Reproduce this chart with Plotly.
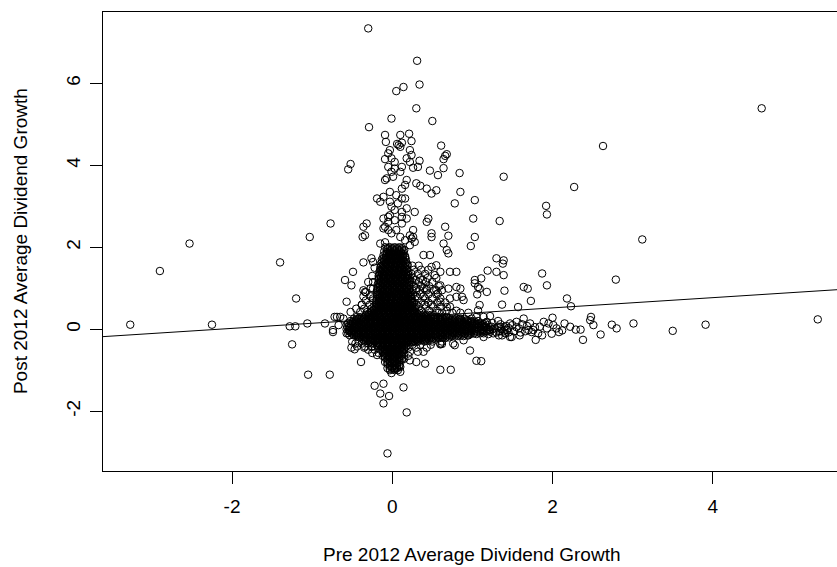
import plotly.graph_objects as go

# ---- data (pre-2012 growth, post-2012 growth) ----
upper_points = [
    (-0.30,7.34),(0.31,6.55),(0.34,5.97),(0.05,5.81),(0.14,5.91),(0.30,5.39),(0.50,5.08),(-0.01,5.14),(-0.29,4.93),
    (-0.09,4.74),(0.10,4.74),(0.21,4.77),(-0.08,4.57),(0.24,4.59),(0.08,4.49),(0.10,4.45),(0.06,4.52),(0.12,4.55),
    (-0.03,4.37),(-0.05,4.29),(0.22,4.37),(0.24,4.25),(0.61,4.48),
    (-0.09,4.15),(-0.01,4.17),(0.03,4.08),(0.18,4.17),(0.22,4.08),(0.34,4.11),(0.66,4.23),(0.64,4.15),(0.68,4.27),
    (-0.05,3.96),(0.03,3.92),(0.12,3.96),(0.26,3.94),(-0.01,3.84),(0.10,3.84),(0.32,3.96),
    (-0.52,4.03),(-0.55,3.90),(0.47,3.87),(0.64,3.93),(0.84,3.81),(0.57,3.76),
    (0.01,3.72),(-0.07,3.68),(-0.09,3.64),(0.18,3.64),(0.16,3.52),(0.12,3.43),
    (0.30,3.56),(0.35,3.50),(0.43,3.43),(0.49,3.31),(0.55,3.39),(0.85,3.35),(0.78,3.07),(1.03,3.15),
    (-0.03,3.35),(0.05,3.27),(0.12,3.19),(0.16,3.19),(0.07,3.07),(-0.19,3.19),(-0.11,3.23),(-0.15,3.11),
    (-0.03,3.11),(-0.01,2.99),(0.03,2.91),(0.12,2.86),(0.18,2.95),(0.28,2.86),
    (-0.05,2.74),(-0.05,2.62),(0.03,2.66),(0.12,2.74),(0.12,2.58),(0.18,2.70),(-0.11,2.70),(-0.09,2.50),(-0.03,2.78),
    (0.45,2.70),(0.43,2.62),(0.66,2.50),(0.70,2.28),(0.49,2.34),(0.49,2.25),(1.01,2.70),(1.03,2.25),(0.98,2.03),(1.34,2.64),
    (-0.11,2.46),(-0.05,2.42),(-0.01,2.34),(0.05,2.42),(0.10,2.25),(0.16,2.17),(0.24,2.21),(0.22,2.05),(0.28,2.13),
    (0.26,2.42),(0.22,2.29),(0.26,2.25),
    (0.64,2.09),(0.68,1.93),(0.70,1.85),(0.39,1.81),(0.47,1.81),(0.55,1.56),(0.49,1.52),(0.60,1.40),(0.53,1.32),
    (0.72,1.40),(0.80,1.40),(1.03,1.20),(1.07,1.03),(0.80,1.03),(0.70,0.99),
]

right_upper_points = [
    (1.39,3.72),(2.27,3.47),(1.92,3.01),(1.93,2.80),(3.12,2.19),(2.79,1.21),(2.63,4.47),(4.61,5.39),
    (1.30,1.73),(1.39,1.68),(1.38,1.60),(1.30,1.40),(1.39,1.32),(1.19,1.43),(1.87,1.36),(1.93,1.07),
    (1.64,1.03),(1.69,0.99),(1.40,0.94),(1.11,1.24),(1.03,1.12),(1.09,0.99),(1.18,0.91),(1.06,0.85),
    (2.18,0.75),(2.23,0.56),(1.73,0.69),(1.57,0.54),(1.37,0.60),(1.09,0.59),(1.07,0.46),
    (0.87,0.79),(0.72,0.75),(0.68,0.54),(0.57,0.87),(0.60,1.07),(0.18,0.91),(0.30,0.95),(0.43,0.99),
    (0.55,0.95),(0.60,0.67),(0.80,0.79),(0.89,0.71),(0.85,0.99),
    (1.22,0.32),(1.14,0.30),(1.05,0.30),(0.99,0.26),(0.93,0.22),(0.85,0.26),
]

left_points = [
    (-0.77,2.58),(-1.03,2.25),(-1.40,1.63),(-2.53,2.09),(-2.90,1.42),(-0.32,2.58),(-0.36,2.50),(-0.37,2.25),
    (-0.34,2.29),(-0.15,2.09),(-0.09,2.12),(-0.36,1.63),(-0.26,1.73),(-0.24,1.64),(-0.49,1.40),(-0.59,1.20),
    (-0.51,1.07),(-0.57,0.67),(-1.20,0.75),(-0.38,0.59),(-0.34,0.91),(-0.24,0.75),(-0.19,0.95),(-0.36,0.95),(-0.24,0.99),
    (-3.27,0.11),(-2.25,0.11),(-1.28,0.07),(-1.21,0.07),(-1.06,0.14),(-0.84,0.14),(-0.69,0.30),(-0.74,-0.02),
    (-1.25,-0.37),(-1.05,-1.11),(-0.78,-1.11),(-0.72,0.30),(-0.65,0.30),(-0.61,0.26),(-0.67,0.10),(-0.74,-0.07),
    (-0.57,-0.10),(-0.53,-0.02),(-0.55,-0.10),(-0.53,-0.15),(-0.51,-0.45),(-0.47,-0.49),(-0.35,-0.45),(-0.39,-0.80),
    (-0.26,-0.43),(-0.19,-0.63),(-0.11,-0.59),(-0.19,-0.39),
]

lower_points = [
    (-0.22,-1.38),(-0.11,-1.33),(-0.15,-1.57),(-0.04,-1.63),(-0.11,-1.81),(0.14,-1.42),(0.18,-2.03),(-0.06,-3.03),
    (-0.03,-0.80),(0.03,-0.96),(-0.01,-1.07),(0.10,-1.04),(0.07,-1.00),(0.10,-0.92),(0.30,-0.80),(0.41,-0.84),
    (0.22,-0.76),(0.39,-0.55),(0.60,-0.99),(0.73,-0.99),(0.97,-0.52),(1.05,-0.77),(1.11,-0.78),(0.60,-0.37),
    (0.78,-0.39),(0.62,-0.36),
]

right_arm_points = [
    (5.31,0.24),(3.91,0.11),(3.50,-0.04),(3.01,0.14),(2.80,0.02),(2.74,0.11),(2.60,-0.13),(2.48,0.30),(2.47,0.22),
    (2.51,0.10),(2.38,-0.26),(2.35,-0.01),(2.29,-0.01),(2.22,0.06),(2.15,0.14),(2.08,-0.07),(1.99,-0.11),(2.00,0.28),
    (1.79,-0.26),(1.37,-0.15),(1.47,-0.19),(1.59,-0.15),(1.32,0.06),(1.55,0.18),(1.70,-0.02),(1.76,-0.02),(1.84,0.06),
    (1.89,0.18),(1.95,0.14),(2.01,0.10),(1.87,-0.15),(1.74,-0.07),(1.64,0.26),(1.72,0.14),(1.41,-0.10),(1.24,0.06),
    (1.14,-0.19),(0.95,-0.15),(0.89,-0.27),(0.76,-0.35),(0.60,-0.35),(1.14,-0.10),(1.22,-0.02),(1.26,-0.10),
    (1.33,-0.15),(1.49,-0.19),
    (1.36,0.00),(1.40,0.05),(1.43,-0.02),(1.38,-0.06),(1.42,0.08),(1.35,0.06),(1.45,0.03),(1.40,-0.03),
    (1.08,0.12),(1.15,-0.05),(1.25,0.15),(1.20,-0.12),(1.35,0.12),(1.30,-0.08),(1.45,-0.08),(1.50,0.10),
    (1.58,0.02),(1.66,-0.05),(1.68,0.08),(1.78,0.05),(1.82,-0.10),(1.93,0.02),(2.05,0.02),(2.12,-0.03),
    (1.15,0.05),(1.18,0.18),(1.22,-0.06),(1.28,0.02),(1.32,0.20),(1.34,-0.05),(1.47,0.14),(1.52,-0.05),
    (1.55,0.05),(1.62,0.12),(1.60,-0.08),
]

# dense vertical column around zero pre-growth: post value -> pre values
column_rows = {
    2.00: [-0.09,-0.03,0.03,0.09],
    1.983: [-0.06,0.00,0.06,0.12],
    1.95: [-0.06,0.00,0.06,0.12],
    1.933: [-0.03,0.03,0.09,0.15],
    1.90: [-0.10,-0.04,0.02,0.08,0.14],
    1.883: [-0.07,-0.01,0.05,0.11],
    1.85: [-0.07,-0.01,0.05,0.11],
    1.833: [-0.04,0.02,0.08,0.14],
    1.80: [-0.11,-0.05,0.01,0.07,0.13],
    1.783: [-0.08,-0.02,0.04,0.10,0.16],
    1.75: [-0.08,-0.02,0.04,0.10,0.16],
    1.733: [-0.11,-0.05,0.01,0.07,0.13],
    1.70: [-0.13,-0.07,-0.01,0.05,0.11,0.17],
    1.683: [-0.10,-0.04,0.02,0.08,0.14],
    1.65: [-0.10,-0.04,0.02,0.08,0.14],
    1.633: [-0.13,-0.07,-0.01,0.05,0.11,0.17],
    1.60: [-0.14,-0.08,-0.02,0.04,0.10,0.16],
    1.583: [-0.11,-0.05,0.01,0.07,0.13,0.19],
    1.55: [-0.11,-0.05,0.01,0.07,0.13,0.19],
    1.533: [-0.14,-0.08,-0.02,0.04,0.10,0.16],
    1.50: [-0.15,-0.09,-0.03,0.03,0.09,0.15],
    1.483: [-0.12,-0.06,0.00,0.06,0.12,0.18],
    1.45: [-0.12,-0.06,0.00,0.06,0.12,0.18],
    1.433: [-0.15,-0.09,-0.03,0.03,0.09,0.15],
    1.40: [-0.16,-0.10,-0.04,0.02,0.08,0.14,0.20],
    1.383: [-0.13,-0.07,-0.01,0.05,0.11,0.17],
    1.35: [-0.13,-0.07,-0.01,0.05,0.11,0.17],
    1.333: [-0.16,-0.10,-0.04,0.02,0.08,0.14,0.20],
    1.30: [-0.17,-0.11,-0.05,0.01,0.07,0.13,0.19],
    1.283: [-0.14,-0.08,-0.02,0.04,0.10,0.16],
    1.25: [-0.14,-0.08,-0.02,0.04,0.10,0.16,0.22],
    1.233: [-0.17,-0.11,-0.05,0.01,0.07,0.13,0.19],
    1.20: [-0.17,-0.11,-0.05,0.01,0.07,0.13,0.19],
    1.183: [-0.14,-0.08,-0.02,0.04,0.10,0.16,0.22],
    1.15: [-0.14,-0.08,-0.02,0.04,0.10,0.16,0.22],
    1.133: [-0.17,-0.11,-0.05,0.01,0.07,0.13,0.19],
    1.10: [-0.18,-0.12,-0.06,0.00,0.06,0.12,0.18],
    1.083: [-0.15,-0.09,-0.03,0.03,0.09,0.15,0.21],
    1.05: [-0.15,-0.09,-0.03,0.03,0.09,0.15,0.21],
    1.033: [-0.18,-0.12,-0.06,0.00,0.06,0.12,0.18],
    1.00: [-0.18,-0.12,-0.06,0.00,0.06,0.12,0.18],
    0.983: [-0.15,-0.09,-0.03,0.03,0.09,0.15,0.21],
    0.95: [-0.15,-0.09,-0.03,0.03,0.09,0.15,0.21],
    0.933: [-0.18,-0.12,-0.06,0.00,0.06,0.12,0.18],
    0.90: [-0.19,-0.13,-0.07,-0.01,0.05,0.11,0.17,0.23],
    0.883: [-0.16,-0.10,-0.04,0.02,0.08,0.14,0.20],
    0.85: [-0.16,-0.10,-0.04,0.02,0.08,0.14,0.20],
    0.833: [-0.19,-0.13,-0.07,-0.01,0.05,0.11,0.17,0.23],
    0.80: [-0.19,-0.13,-0.07,-0.01,0.05,0.11,0.17,0.23],
    0.783: [-0.16,-0.10,-0.04,0.02,0.08,0.14,0.20],
    0.75: [-0.16,-0.10,-0.04,0.02,0.08,0.14,0.20],
    0.733: [-0.19,-0.13,-0.07,-0.01,0.05,0.11,0.17,0.23],
    0.70: [-0.20,-0.14,-0.08,-0.02,0.04,0.10,0.16,0.22],
    0.683: [-0.17,-0.11,-0.05,0.01,0.07,0.13,0.19,0.25],
    0.65: [-0.17,-0.11,-0.05,0.01,0.07,0.13,0.19,0.25],
    0.633: [-0.20,-0.14,-0.08,-0.02,0.04,0.10,0.16,0.22],
    0.60: [-0.20,-0.14,-0.08,-0.02,0.04,0.10,0.16,0.22],
    0.583: [-0.17,-0.11,-0.05,0.01,0.07,0.13,0.19,0.25],
    0.55: [-0.23,-0.17,-0.11,-0.05,0.01,0.07,0.13,0.19,0.25],
    0.533: [-0.20,-0.14,-0.08,-0.02,0.04,0.10,0.16,0.22,0.28],
    0.50: [-0.20,-0.14,-0.08,-0.02,0.04,0.10,0.16,0.22,0.28],
    0.483: [-0.23,-0.17,-0.11,-0.05,0.01,0.07,0.13,0.19,0.25],
    0.45: [-0.23,-0.17,-0.11,-0.05,0.01,0.07,0.13,0.19,0.25],
    0.433: [-0.26,-0.20,-0.14,-0.08,-0.02,0.04,0.10,0.16,0.22,0.28],
    0.40: [-0.26,-0.20,-0.14,-0.08,-0.02,0.04,0.10,0.16,0.22,0.28,0.34],
    0.383: [-0.29,-0.23,-0.17,-0.11,-0.05,0.01,0.07,0.13,0.19,0.25,0.31],
}

# dense horizontal band around zero post-growth
band_rows = {
    0.35: [-0.33,-0.27,-0.21,-0.15,-0.09,-0.03,0.03,0.09,0.15,0.21,0.27,0.33,0.39,0.45,0.52],
    0.333: [-0.30,-0.24,-0.18,-0.12,-0.06,0.00,0.06,0.12,0.18,0.24,0.30,0.36,0.42,0.48],
    0.30: [-0.44,-0.38,-0.31,-0.25,-0.19,-0.13,-0.07,-0.01,0.05,0.11,0.17,0.23,0.29,0.35,0.41,0.48,0.54,0.60,0.67],
    0.283: [-0.41,-0.35,-0.28,-0.22,-0.16,-0.10,-0.04,0.02,0.08,0.14,0.20,0.26,0.32,0.38,0.44,0.51,0.57,0.63],
    0.25: [-0.48,-0.42,-0.35,-0.29,-0.22,-0.16,-0.10,-0.04,0.02,0.08,0.14,0.20,0.26,0.32,0.38,0.44,0.51,0.57,
           0.63,0.70,0.76,0.83,0.90],
    0.233: [-0.45,-0.39,-0.32,-0.26,-0.19,-0.13,-0.07,-0.01,0.05,0.11,0.17,0.23,0.29,0.35,0.41,0.47,0.54,0.60,
            0.66,0.73,0.79,0.86],
    0.20: [-0.52,-0.46,-0.39,-0.33,-0.27,-0.21,-0.15,-0.09,-0.03,0.03,0.09,0.15,0.21,0.27,0.33,0.39,0.45,0.51,
           0.57,0.63,0.69,0.75,0.81,0.87,0.94,1.00,1.07],
    0.183: [-0.49,-0.43,-0.36,-0.30,-0.24,-0.18,-0.12,-0.06,0.00,0.06,0.12,0.18,0.24,0.30,0.36,0.42,0.48,0.54,
            0.60,0.66,0.72,0.78,0.84,0.90,0.97,1.03],
    0.15: [-0.55,-0.49,-0.42,-0.36,-0.30,-0.24,-0.18,-0.12,-0.06,0.00,0.06,0.12,0.18,0.24,0.30,0.36,0.42,0.48,
           0.54,0.60,0.66,0.72,0.78,0.84,0.90,0.97,1.03,1.10,1.16],
    0.133: [-0.52,-0.46,-0.39,-0.33,-0.27,-0.21,-0.15,-0.09,-0.03,0.03,0.09,0.15,0.21,0.27,0.33,0.39,0.45,0.51,
            0.57,0.63,0.69,0.75,0.81,0.87,0.93,1.00,1.06,1.13],
    0.10: [-0.57,-0.51,-0.45,-0.39,-0.33,-0.27,-0.21,-0.15,-0.09,-0.03,0.03,0.09,0.15,0.21,0.27,0.33,0.39,0.45,
           0.51,0.57,0.63,0.69,0.75,0.81,0.87,0.93,0.99,1.05,1.12,1.19],
    0.083: [-0.54,-0.48,-0.42,-0.36,-0.30,-0.24,-0.18,-0.12,-0.06,0.00,0.06,0.12,0.18,0.24,0.30,0.36,0.42,0.48,
            0.54,0.60,0.66,0.72,0.78,0.84,0.90,0.96,1.02,1.08,1.15],
    0.05: [-0.56,-0.50,-0.44,-0.38,-0.32,-0.26,-0.20,-0.14,-0.08,-0.02,0.04,0.10,0.16,0.22,0.28,0.34,0.40,0.46,
           0.52,0.58,0.64,0.70,0.76,0.82,0.88,0.94,1.00,1.07,1.14,1.22],
    0.033: [-0.53,-0.47,-0.41,-0.35,-0.29,-0.23,-0.17,-0.11,-0.05,0.01,0.07,0.13,0.19,0.25,0.31,0.37,0.43,0.49,
            0.55,0.61,0.67,0.73,0.79,0.85,0.91,0.97,1.03,1.10,1.17],
    0.00: [-0.57,-0.51,-0.45,-0.39,-0.33,-0.27,-0.21,-0.15,-0.09,-0.03,0.03,0.09,0.15,0.21,0.27,0.33,0.39,0.45,
           0.51,0.57,0.63,0.69,0.75,0.81,0.87,0.93,0.99,1.05,1.11,1.18,1.25],
    -0.017: [-0.54,-0.48,-0.42,-0.36,-0.30,-0.24,-0.18,-0.12,-0.06,0.00,0.06,0.12,0.18,0.24,0.30,0.36,0.42,0.48,
             0.54,0.60,0.66,0.72,0.78,0.84,0.90,0.96,1.02,1.08,1.14,1.21],
    -0.05: [-0.54,-0.48,-0.42,-0.36,-0.30,-0.24,-0.18,-0.12,-0.06,0.00,0.06,0.12,0.18,0.24,0.30,0.36,0.42,0.48,
            0.54,0.60,0.66,0.72,0.78,0.84,0.90,0.96,1.03,1.10,1.18],
    -0.067: [-0.51,-0.45,-0.39,-0.33,-0.27,-0.21,-0.15,-0.09,-0.03,0.03,0.09,0.15,0.21,0.27,0.33,0.39,0.45,0.51,
             0.57,0.63,0.69,0.75,0.81,0.87,0.93,0.99,1.06,1.13],
    -0.10: [-0.51,-0.45,-0.39,-0.33,-0.27,-0.21,-0.15,-0.09,-0.03,0.03,0.09,0.15,0.21,0.27,0.33,0.39,0.45,0.51,
            0.57,0.63,0.69,0.75,0.81,0.88,0.95,1.02,1.10],
    -0.117: [-0.48,-0.42,-0.36,-0.30,-0.24,-0.18,-0.12,-0.06,0.00,0.06,0.12,0.18,0.24,0.30,0.36,0.42,0.48,0.54,
             0.60,0.66,0.72,0.78,0.84,0.91,0.98,1.05],
    -0.15: [-0.48,-0.42,-0.36,-0.30,-0.24,-0.18,-0.12,-0.06,0.00,0.06,0.12,0.18,0.24,0.30,0.36,0.42,0.48,0.54,
            0.60,0.66,0.72,0.79,0.86,0.94],
    -0.167: [-0.45,-0.39,-0.33,-0.27,-0.21,-0.15,-0.09,-0.03,0.03,0.09,0.15,0.21,0.27,0.33,0.39,0.45,0.51,0.57,
             0.63,0.69,0.75,0.82,0.89],
    -0.20: [-0.41,-0.35,-0.29,-0.23,-0.17,-0.11,-0.05,0.01,0.07,0.13,0.19,0.25,0.31,0.37,0.43,0.49,0.56,0.63,0.71],
    -0.217: [-0.38,-0.32,-0.26,-0.20,-0.14,-0.08,-0.02,0.04,0.10,0.16,0.22,0.28,0.34,0.40,0.46,0.52,0.59,0.66],
    -0.25: [-0.36,-0.30,-0.24,-0.18,-0.12,-0.06,0.00,0.06,0.12,0.18,0.24,0.30,0.36,0.43,0.50],
    -0.267: [-0.33,-0.27,-0.21,-0.15,-0.09,-0.03,0.03,0.09,0.15,0.21,0.27,0.33,0.39,0.46],
    -0.30: [-0.28,-0.22,-0.16,-0.10,-0.04,0.02,0.08,0.14,0.20,0.26,0.32],
    -0.317: [-0.25,-0.19,-0.13,-0.07,-0.01,0.05,0.11,0.17,0.23,0.29],
}

# dense column below zero
lower_column_rows = {
    -0.35: [-0.18,-0.12,-0.06,0.00,0.06,0.12,0.18],
    -0.367: [-0.15,-0.09,-0.03,0.03,0.09,0.15],
    -0.40: [-0.15,-0.09,-0.03,0.03,0.09,0.15],
    -0.417: [-0.12,-0.06,0.00,0.06,0.12,0.18],
    -0.45: [-0.12,-0.06,0.00,0.06,0.12],
    -0.467: [-0.09,-0.03,0.03,0.09,0.15],
    -0.50: [-0.15,-0.09,-0.03,0.03,0.09,0.15],
    -0.517: [-0.12,-0.06,0.00,0.06,0.12],
    -0.55: [-0.12,-0.06,0.00,0.06,0.12],
    -0.567: [-0.09,-0.03,0.03,0.09],
    -0.60: [-0.09,-0.03,0.03,0.09,0.15],
    -0.617: [-0.06,0.00,0.06,0.12],
    -0.65: [-0.12,-0.06,0.00,0.06,0.12],
    -0.667: [-0.09,-0.03,0.03,0.09],
    -0.70: [-0.09,-0.03,0.03,0.09],
    -0.717: [-0.06,0.00,0.06,0.12],
    -0.75: [-0.06,0.00,0.06,0.12],
    -0.767: [-0.03,0.03,0.09],
    -0.80: [-0.09,-0.03,0.03,0.09],
    -0.817: [-0.06,0.00,0.06],
    -0.85: [-0.06,0.00,0.06],
    -0.867: [-0.03,0.03,0.09],
    -0.90: [-0.03,0.03,0.09],
    -0.917: [0.00,0.06],
    -0.95: [-0.06,0.00,0.06],
    -0.967: [-0.03,0.03],
    -1.00: [-0.03,0.03],
}

# scattered rings around the dense cross
halo_rows = {
    1.55: [0.25,0.33], 1.50: [-0.22], 1.45: [0.27,0.36,0.45], 1.35: [0.24,0.32,0.41], 1.30: [-0.25],
    1.25: [0.26,0.35,0.44,0.55], 1.20: [0.29,0.38], 1.15: [-0.30,-0.24,0.25,0.33,0.42,0.50],
    1.05: [0.27,0.36,0.46,0.58], 1.00: [-0.27,0.30,0.40], 0.95: [0.25,0.34,0.43,0.52,0.62], 0.90: [-0.33],
    0.85: [0.26,0.35,0.45,0.55], 0.80: [-0.36,-0.27,0.29,0.39], 0.75: [0.24,0.32,0.41,0.50,0.60],
    0.70: [-0.33,-0.24], 0.65: [0.27,0.36,0.45,0.56,0.66], 0.60: [-0.38,-0.28,0.30,0.40,0.49],
    0.55: [0.25,0.33,0.42,0.51,0.61,0.72], 0.50: [-0.45,-0.35,-0.26], 0.45: [0.27,0.36,0.46,0.56,0.68,0.80],
    0.42: [-0.52,-0.40,-0.31], 0.40: [0.58,0.62,0.75,0.85,0.95],
    -0.30: [-0.50,-0.42,-0.35,0.40,0.50,0.62], -0.35: [-0.46,-0.38,-0.30,-0.24],
    -0.38: [0.25,0.35,0.48], -0.42: [-0.44,-0.34,-0.25,-0.18], -0.45: [0.20,0.30,0.43],
    -0.50: [-0.30,-0.22], -0.55: [0.22,0.32], -0.58: [-0.25,-0.17], -0.65: [0.20], -0.72: [0.15],
}

fit_intercept = 0.27
fit_slope = 0.125

x_ticks = [-2, 0, 2, 4]
y_ticks = [-2, 0, 2, 4, 6]
x_range = [-3.61, 5.55]
y_range = [-3.46, 7.74]

# ---- assemble ----
pairs = upper_points + right_upper_points + left_points + lower_points + right_arm_points
for rows in (column_rows, band_rows, lower_column_rows, halo_rows):
    for yv, xs in rows.items():
        pairs += [(xv, yv) for xv in xs]
pre_growth = [p[0] for p in pairs]
post_growth = [p[1] for p in pairs]

FONT = "Liberation Sans, Arimo, Arial, sans-serif"

fig = go.Figure()
fig.add_trace(go.Scatter(
    x=pre_growth, y=post_growth, mode="markers",
    marker=dict(symbol="circle-open", size=7.5, color="black", line=dict(width=1, color="black")),
    hoverinfo="skip", showlegend=False,
))
fig.add_trace(go.Scatter(
    x=x_range, y=[fit_intercept + fit_slope * v for v in x_range], mode="lines",
    line=dict(color="black", width=1), hoverinfo="skip", showlegend=False,
))

fig.update_layout(
    width=837, height=567,
    margin=dict(l=103, r=0, t=12, b=96),
    paper_bgcolor="white", plot_bgcolor="white",
    font=dict(family=FONT, size=19, color="black"),
    xaxis=dict(range=x_range, tickvals=x_ticks, ticktext=[str(v) for v in x_ticks],
               showgrid=False, zeroline=False, showline=True, linecolor="black", linewidth=1,
               mirror=True, ticks="outside", ticklen=12, tickcolor="black", tickwidth=1,
               tickfont=dict(size=19), ticklabelstandoff=6),
    yaxis=dict(range=y_range, tickvals=y_ticks, ticktext=[str(v) for v in y_ticks],
               showgrid=False, zeroline=False, showline=True, linecolor="black", linewidth=1,
               mirror=False, ticks="outside", ticklen=12, tickcolor="black", tickwidth=1,
               tickangle=-90, tickfont=dict(size=19), ticklabelstandoff=2),
    annotations=[
        dict(text="Pre 2012 Average Dividend Growth", xref="paper", yref="paper",
             x=0.5027, y=-0.181, xanchor="center", yanchor="middle", showarrow=False,
             font=dict(size=19)),
        dict(text="Post 2012 Average Dividend Growth", xref="paper", yref="paper",
             x=-0.113, y=0.501, xanchor="center", yanchor="middle", showarrow=False,
             textangle=-90, font=dict(size=19)),
    ],
)

fig.write_html("out.html", config={"displayModeBar": False},
               post_script="document.body.style.margin='0';document.body.style.overflow='hidden';")
